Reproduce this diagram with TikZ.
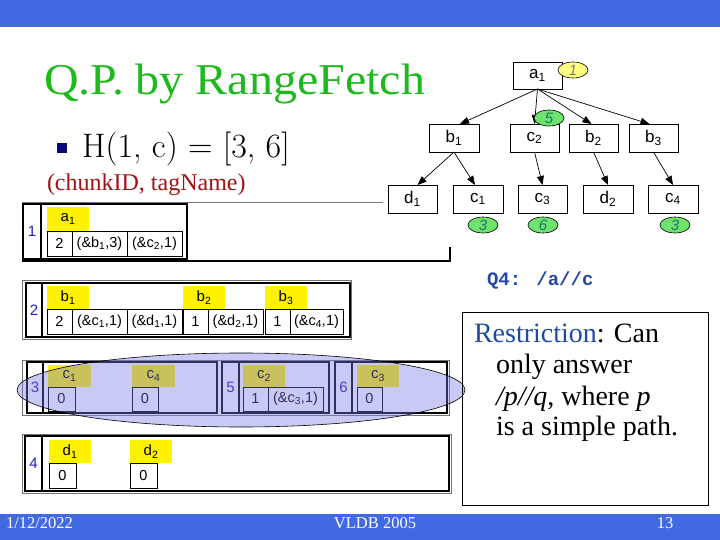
\documentclass[tikz,border=0pt]{standalone}
\usepackage{fontspec}
\usetikzlibrary{arrows.meta,shapes.geometric}
\newfontfamily\arialf{Liberation Sans}
\newfontfamily\timesf{Liberation Serif}
\newfontfamily\monof{Liberation Mono}
\definecolor{barblue}{RGB}{65,105,225}
\definecolor{titlegreen}{RGB}{30,185,30}
\definecolor{darkred}{RGB}{160,20,20}
\definecolor{navy}{RGB}{10,10,120}
\definecolor{restblue}{RGB}{30,75,160}
\definecolor{qblue}{RGB}{40,70,170}
\definecolor{numblue}{RGB}{30,30,200}
\definecolor{lightyel}{RGB}{255,255,130}
\definecolor{lightgrn}{RGB}{110,225,110}
\definecolor{tealtxt}{RGB}{30,120,100}
\definecolor{lav}{RGB}{120,120,230}
\newcommand\mycell[7]{%
 \pgfmathsetmacro\cx{(#2+#4)/2}\pgfmathsetmacro\cy{(#3+#5)/2}%
 \pgfmathsetmacro\cw{#4-#2}\pgfmathsetmacro\ch{#5-#3}%
 \node[#6, minimum width=\cw pt, minimum height=\ch pt] (#1) at (\cx,\cy) {#7};}
\newcommand\sub[1]{\textsubscript{#1}}
\begin{document}
\begin{tikzpicture}[x=1pt,y=-1pt,
  every node/.style={inner sep=0pt, outer sep=0pt},
  tnode/.style={draw=black, line width=0.8pt, fill=white, font=\arialf\fontsize{17}{19}\selectfont},
  tedge/.style={-{Triangle[length=9pt,width=7pt]}, line width=0.7pt},
  yell/.style={ellipse, draw=black, line width=0.6pt, fill=lightyel, text=gray, font=\arialf\itshape\fontsize{15}{17}\selectfont, minimum width=30pt, minimum height=16pt},
  grn/.style={ellipse, draw=black, line width=0.6pt, fill=lightgrn, text=tealtxt, font=\arialf\itshape\fontsize{15}{17}\selectfont, minimum width=30pt, minimum height=16pt},
  frame/.style={draw=black!55, line width=0.9pt},
  ccol/.style={draw=black, line width=2.2pt, text=numblue, font=\arialf\fontsize{15}{17}\selectfont},
  cbox/.style={draw=black, line width=2.2pt},
  ytag/.style={fill=yellow, font=\arialf\fontsize{15}{17}\selectfont},
  cell/.style={draw=black, line width=0.6pt, fill=white, font=\arialf\fontsize{14.5}{17}\selectfont},
  rtext/.style={anchor=base west, font=\timesf\fontsize{28}{31}\selectfont},
  foot/.style={anchor=base, text=white, font=\timesf\fontsize{16.5}{18}\selectfont},
]
\useasboundingbox (0,0) rectangle (720,540);
\fill[white] (0,0) rectangle (720,540);
% bars
\fill[barblue] (0,0) rectangle (720,27);
\fill[barblue] (0,514) rectangle (720,540);
\node[foot, anchor=base west] (date) at (6,528) {1/12/2022};
\node[foot] (conf) at (375,528) {VLDB 2005};
\node[foot] (page) at (665,528) {13};
% title
\node[anchor=base west, text=titlegreen, font=\timesf\fontsize{44}{50}\selectfont, xscale=1.09] (title) at (44,95) {Q.P. by RangeFetch};
\fill[navy] (57,143) rectangle (67,153);
\node[anchor=base west, font=\fontsize{34}{38}\selectfont] (hline) at (82,158) {H(1, c) = [3, 6]};
\node[anchor=base west, text=darkred, font=\timesf\fontsize{24}{26}\selectfont] (ctag) at (47,191) {(chunkID, tagName)};
% chunk 1
\draw[frame] (383,202) -- (22,202) -- (22,261);
\draw[line width=1.1pt] (22,261) -- (450,261) -- (450,247);
\mycell{n1}{23}{204}{41}{259}{ccol}{1}
\mycell{k1}{41}{204}{187}{259}{cbox}{}
\mycell{a1t}{47}{207}{89}{231}{ytag}{a\sub{1}}
\mycell{a1c}{47}{231}{72}{256}{cell}{2}
\mycell{a1p}{72}{231}{127}{256}{cell}{(\&b\sub{1},3)}
\mycell{a1q}{127}{231}{182}{256}{cell}{(\&c\sub{2},1)}
% chunk 2
\draw[frame] (22,280) rectangle (351,339);
\mycell{n2}{26}{283}{42}{337}{ccol}{2}
\mycell{k2}{42}{283}{350}{337}{cbox}{}
\mycell{b1t}{47}{286}{89}{309}{ytag}{b\sub{1}}
\mycell{b2t}{183}{286}{225}{309}{ytag}{b\sub{2}}
\mycell{b3t}{265}{286}{307}{309}{ytag}{b\sub{3}}
\mycell{b1c}{47}{309}{72}{334}{cell}{2}
\mycell{b1p}{72}{309}{127}{334}{cell}{(\&c\sub{1},1)}
\mycell{b1q}{127}{309}{182}{334}{cell}{(\&d\sub{1},1)}
\mycell{b2c}{183}{309}{208}{334}{cell}{1}
\mycell{b2p}{208}{309}{263}{334}{cell}{(\&d\sub{2},1)}
\mycell{b3c}{265}{309}{290}{334}{cell}{1}
\mycell{b3p}{290}{309}{343}{334}{cell}{(\&c\sub{4},1)}
% chunk 3,5,6
\draw[frame] (22,360) rectangle (449,415);
\mycell{n3}{27}{362}{43}{413}{ccol}{3}
\mycell{k3}{43}{362}{217}{413}{cbox}{}
\mycell{c1t}{48}{365}{91}{387}{ytag}{c\sub{1}}
\mycell{c1c}{48}{387}{75}{411}{cell}{0}
\mycell{c4t}{132}{365}{175}{387}{ytag}{c\sub{4}}
\mycell{c4c}{132}{387}{158}{411}{cell}{0}
\mycell{n5}{222}{362}{239}{413}{ccol}{5}
\mycell{k5}{239}{362}{329}{413}{cbox}{}
\mycell{c2t}{243}{365}{285}{387}{ytag}{c\sub{2}}
\mycell{c2c}{243}{387}{268}{411}{cell}{1}
\mycell{c2p}{268}{387}{323}{411}{cell}{(\&c\sub{3},1)}
\mycell{n6}{335}{362}{352}{413}{ccol}{6}
\mycell{k6}{352}{362}{447}{413}{cbox}{}
\mycell{c3t}{357}{365}{399}{387}{ytag}{c\sub{3}}
\mycell{c3c}{357}{387}{382}{411}{cell}{0}
\node[ellipse, draw=black, line width=0.6pt, fill=lav, fill opacity=0.4, minimum width=448pt, minimum height=74pt] (hl) at (241,390) {};
% chunk 4
\draw[frame] (22,434) rectangle (451,493);
\mycell{n4}{25}{436}{42}{491}{ccol}{4}
\mycell{k4}{42}{436}{449}{491}{cbox}{}
\mycell{d1t}{49}{440}{91}{463}{ytag}{d\sub{1}}
\mycell{d1c}{49}{463}{76}{488}{cell}{0}
\mycell{d2t}{130}{440}{172}{463}{ytag}{d\sub{2}}
\mycell{d2c}{130}{463}{157}{488}{cell}{0}
% tree
\mycell{a1}{513}{62}{562}{89}{tnode}{a\sub{1}}
\mycell{b1}{429}{124}{479}{152}{tnode}{b\sub{1}}
\mycell{c2}{510}{124}{559}{152}{tnode}{c\sub{2}}
\mycell{b2}{569}{124}{618}{152}{tnode}{b\sub{2}}
\mycell{b3}{629}{124}{678}{152}{tnode}{b\sub{3}}
\mycell{d1}{388}{185}{437}{213}{tnode}{d\sub{1}}
\mycell{c1}{453}{185}{503}{213}{tnode}{c\sub{1}}
\mycell{c3}{518}{185}{567}{213}{tnode}{c\sub{3}}
\mycell{d2}{583}{185}{633}{213}{tnode}{d\sub{2}}
\mycell{c4}{648}{185}{698}{213}{tnode}{c\sub{4}}
\draw[tedge] (a1.south) -- ([xshift=6pt]b1.north);
\draw[tedge] (a1.south) -- (c2.north);
\draw[tedge] (a1.south) -- ([xshift=-2pt]b2.north);
\draw[tedge] (a1.south) -- ([xshift=-4pt]b3.north);
\draw[tedge] (b1.south) -- ([xshift=5pt]d1.north);
\draw[tedge] (b1.south) -- ([xshift=-3pt]c1.north);
\draw[tedge] (c2.south) -- (c3.north);
\draw[tedge] (b2.south) -- (d2.north);
\draw[tedge] (b3.south) -- (c4.north);
\node[yell] (e1) at (573,70) {1};
\node[grn] (e5) at (549,118) {5};
\node[grn] (e3a) at (483,225) {3};
\node[grn] (e6) at (543,225) {6};
\node[grn] (e3b) at (675,225) {3};
% query
\node[anchor=base west, text=qblue, font=\monof\bfseries\fontsize{19}{21}\selectfont] (q4) at (487,285) {Q4: /a//c};
% restriction box
\draw[line width=0.8pt] (462,312) rectangle (708,505);
\node[rtext] (r1) at (474,342) {\textcolor{restblue}{Restriction}: Can};
\node[rtext] (r2) at (496,373) {only answer};
\node[rtext] (r3) at (496,405) {\textit{/p//q}, where \textit{p}};
\node[rtext] (r4) at (496,435) {is a simple path.};
\end{tikzpicture}
\end{document}
